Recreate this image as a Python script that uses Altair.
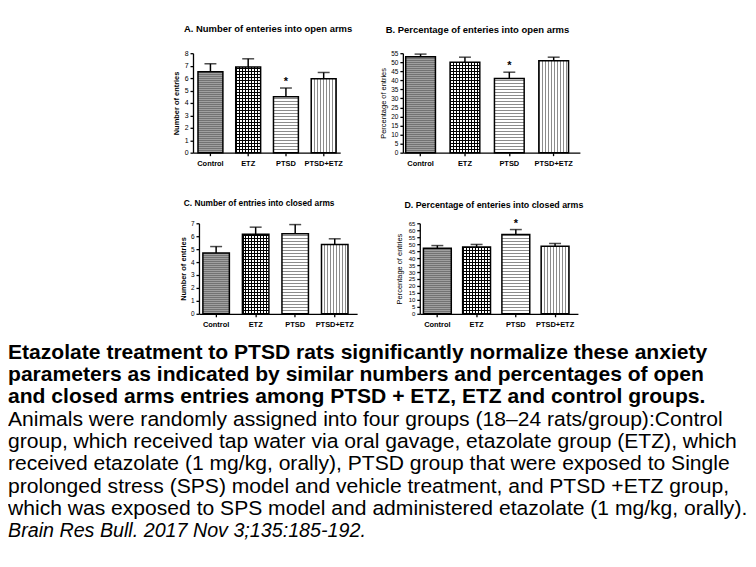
import altair as alt
import pandas as pd

FONT = "Liberation Sans"

groups = ["Control", "ETZ", "PTSD", "PTSD+ETZ"]

# A. Number of entries into open arms
a_mean = [6.5, 6.9, 4.5, 5.95]
a_err = [0.65, 0.65, 0.7, 0.5]
a_sig = ["", "", "*", ""]
# B. Percentage of entries into open arms
b_mean = [53.0, 50.0, 41.0, 50.8]
b_err = [1.5, 2.8, 3.5, 2.0]
b_sig = ["", "", "*", ""]
# C. Number of entries into closed arms
c_mean = [4.7, 6.15, 6.2, 5.35]
c_err = [0.5, 0.55, 0.7, 0.45]
c_sig = ["", "", "", ""]
# D. Percentage of entries into closed arms
d_mean = [47.0, 48.0, 57.0, 48.5]
d_err = [2.0, 1.8, 3.5, 2.0]
d_sig = ["", "", "*", ""]

caption_bold = [
    "Etazolate treatment to PTSD rats significantly normalize these anxiety",
    "parameters as indicated by similar numbers and percentages of open",
    "and closed arms entries among PTSD + ETZ, ETZ and control groups.",
]
caption_normal = [
    "Animals were randomly assigned into four groups (18\u201324 rats/group):Control",
    "group, which received tap water via oral gavage, etazolate group (ETZ), which",
    "received etazolate (1 mg/kg, orally), PTSD group that were exposed to Single",
    "prolonged stress (SPS) model and vehicle treatment, and PTSD +ETZ group,",
    "which was exposed to SPS model and administered etazolate (1 mg/kg, orally).",
]
caption_cite = ["Brain Res Bull. 2017 Nov 3;135:185-192."]


def stripes(c_line, c_bg, length, period, line_w, horizontal):
    """Hatch fill: lines of fixed pixel period, anchored at the bar's base/left."""
    segs = []
    k = 0
    while k * period < length:
        d0 = k * period
        d1 = min(d0 + line_w, length)
        segs.append((d0, d1, c_line))
        if d1 < length:
            segs.append((d1, min(d0 + period, length), c_bg))
        k += 1
    if horizontal:
        segs = [(length - e, length - s, c) for s, e, c in reversed(segs)]
    stops = []
    for s, e, c in segs:
        stops.append(alt.GradientStop(color=c, offset=max(0.0, min(1.0, s / length))))
        stops.append(alt.GradientStop(color=c, offset=max(0.0, min(1.0, e / length))))
    if horizontal:
        return alt.LinearGradient(gradient="linear", stops=stops, x1=0, y1=0, x2=0, y2=1)
    return alt.LinearGradient(gradient="linear", stops=stops, x1=0, y1=0, x2=1, y2=0)


def panel(title, ytitle, means, errs, sig, ymax, ystep, width, height,
          title_size, title_offset, title_dx, ytitle_bold, ylabel_size, ytitle_pad,
          p_inner, p_outer, p_align):
    df = pd.DataFrame({
        "group": groups,
        "mean": means,
        "upper": [m + e for m, e in zip(means, errs)],
        "sig": sig,
    })
    xenc = alt.X("group:N", sort=groups,
                 scale=alt.Scale(paddingInner=p_inner, paddingOuter=p_outer, align=p_align),
                 axis=alt.Axis(title=None, labelAngle=0, labelFontWeight="bold",
                               labelFontSize=7.5, labelPadding=4, tickSize=3))
    yaxis = alt.Axis(title=ytitle, values=list(range(0, ymax + 1, ystep)),
                     labelFontSize=ylabel_size, labelPadding=2, tickSize=3,
                     titleFontSize=7.5,
                     titleFontWeight="bold" if ytitle_bold else "normal",
                     titlePadding=ytitle_pad)
    yscale = alt.Scale(domain=[0, ymax], nice=False)

    def yenc(field):
        return alt.Y(field, type="quantitative", scale=yscale, axis=yaxis)

    base = alt.Chart(df)
    step = width / (4 - p_inner + 2 * p_outer)
    band = step * (1 - p_inner)
    layers = []
    for g, m in zip(groups, means):
        px = m / ymax * height
        sub = base.transform_filter(alt.datum.group == g)
        if g == "Control":
            fills = [stripes("#737373", "#a0a0a0", px, 2, 1, True)]
        elif g == "ETZ":
            fills = [stripes("#000000", "#ffffff", px, 3, 1.1, True),
                     stripes("#000000", "rgba(255,255,255,0)", band, 3, 1.1, False)]
        elif g == "PTSD":
            fills = [stripes("#8c8c8c", "#ffffff", px, 3, 1, True)]
        else:
            fills = [stripes("#8c8c8c", "#ffffff", band, 3, 1, False)]
        for i, f in enumerate(fills):
            last = i == len(fills) - 1
            layers.append(
                sub.mark_bar(fill=f, stroke="black" if last else None,
                             strokeWidth=1.5 if last else 0)
                .encode(x=xenc, y=yenc("mean"))
            )
    layers.append(base.mark_rule(color="black", strokeWidth=1.5)
                  .encode(x=xenc, y=yenc("mean"), y2="upper:Q"))
    layers.append(base.mark_tick(color="black", size=12, thickness=1.5,
                                 orient="horizontal")
                  .encode(x=xenc, y=yenc("upper")))
    layers.append(base.transform_filter(alt.datum.sig != "")
                  .mark_text(color="black", fontSize=11, fontWeight="bold",
                             baseline="middle", dy=-6, font=FONT)
                  .encode(x=xenc, y=yenc("upper"), text="sig:N"))
    return alt.layer(*layers).properties(
        width=width, height=height,
        title=alt.TitleParams(title, fontSize=title_size, fontWeight="bold",
                              offset=title_offset, dx=title_dx, anchor="middle", font=FONT),
    )


def spacer(w):
    d = pd.DataFrame({"v": [0]})
    return alt.Chart(d).mark_point(opacity=0, size=1).encode(
        x=alt.X("v:Q", axis=None, scale=alt.Scale(domain=[-1, 1])),
        y=alt.Y("v:Q", axis=None, scale=alt.Scale(domain=[-1, 1])),
    ).properties(width=w, height=10)


pA = panel("A. Number of enteries into open arms", "Number of entries",
           a_mean, a_err, a_sig, 8, 1, 148, 100, 9.5, 16, 1.5, True, 7, 4,
           0.34, 0.12, 0.55)
pB = panel("B. Percentage of enteries into open arms", "Percentage of entries",
           b_mean, b_err, b_sig, 55, 5, 178, 100, 9.5, 16, -14, False, 6.5, 3,
           0.33, 0.16, 0.2)
pC = panel("C. Number of entries into closed arms", "Number of entries",
           c_mean, c_err, c_sig, 7, 1, 159, 91, 8.4, 13, -19, True, 6.5, 3,
           0.33, 0.165, 0.3)
pD = panel("D. Percentage of enteries into closed arms", "Percentage of entries",
           d_mean, d_err, d_sig, 65, 5, 159, 91, 8.9, 8, -5, False, 6, 5,
           0.29, 0.16, 0.29)

row1 = alt.hconcat(spacer(139), pA, pB, spacing=26)
row2 = alt.hconcat(spacer(134), pC, pD, spacing=38)
grid = alt.vconcat(row1, row2, spacing=31)

lines = caption_bold + caption_normal + caption_cite
styles = ["bold"] * len(caption_bold) + ["normal"] * len(caption_normal) + ["italic"] * len(caption_cite)
cap_df = pd.DataFrame({"row": list(range(len(lines))), "text": lines, "style": styles})
cy = alt.Y("row:O", axis=None, scale=alt.Scale(padding=0.5))
cap_base = alt.Chart(cap_df)
cap = alt.layer(
    cap_base.transform_filter(alt.datum.style == "bold").mark_text(
        align="left", baseline="middle", fontSize=21.2, fontWeight="bold", font=FONT,
        color="black"
    ).encode(x=alt.value(0), y=cy, text="text:N"),
    cap_base.transform_filter(alt.datum.style == "normal").mark_text(
        align="left", baseline="middle", fontSize=21.2, font=FONT, color="black"
    ).encode(x=alt.value(0), y=cy, text="text:N"),
    cap_base.transform_filter(alt.datum.style == "italic").mark_text(
        align="left", baseline="middle", fontSize=19.8, fontStyle="italic", font=FONT,
        color="black"
    ).encode(x=alt.value(0), y=cy, text="text:N"),
).properties(width=738, height=202)

chart = alt.vconcat(grid, cap, spacing=13).properties(
    padding={"left": 0, "top": 14, "right": 0, "bottom": 0}
).configure_view(stroke=None).configure_axis(
    domainColor="black", tickColor="black", labelColor="black", titleColor="black",
    grid=False, labelFont=FONT, titleFont=FONT, domainWidth=1.3, tickWidth=1.3,
).configure_title(font=FONT, color="black")

chart.save("out.html", embed_options={"renderer": "svg", "actions": False})
